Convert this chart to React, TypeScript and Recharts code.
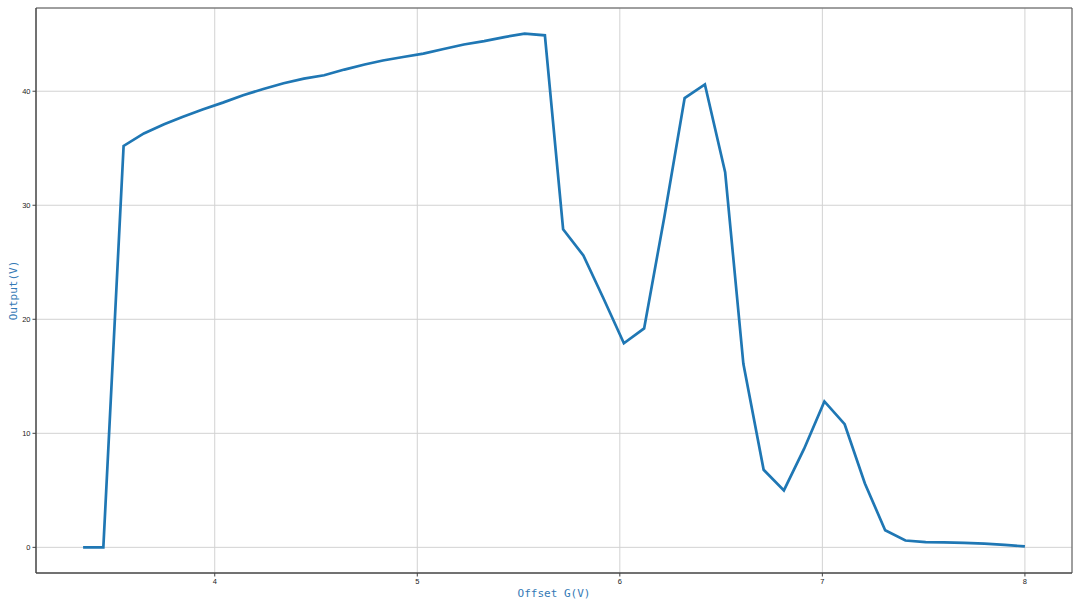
import React from "react";
import {
  LineChart,
  Line,
  XAxis,
  YAxis,
  CartesianGrid,
  ReferenceArea,
} from "recharts";

const offsetG = [
  3.35, 3.45, 3.55, 3.65, 3.75, 3.84, 3.94, 4.04, 4.14, 4.24, 4.34, 4.44,
  4.54, 4.64, 4.74, 4.83, 4.93, 5.03, 5.13, 5.23, 5.33, 5.43, 5.53, 5.63,
  5.72, 5.82, 5.92, 6.02, 6.12, 6.22, 6.32, 6.42, 6.52, 6.61, 6.71, 6.81,
  6.91, 7.01, 7.11, 7.21, 7.31, 7.41, 7.51, 7.6, 7.7, 7.8, 7.9, 8.0,
];

const output = [
  0, 0, 35.2, 36.3, 37.1, 37.75, 38.4, 39.0, 39.65, 40.2, 40.7, 41.1, 41.4,
  41.9, 42.35, 42.7, 43.0, 43.3, 43.7, 44.1, 44.4, 44.75, 45.05, 44.9, 27.9,
  25.6, 21.8, 17.9, 19.2, 29.0, 39.4, 40.6, 32.9, 16.1, 6.8, 5.0, 8.65, 12.8,
  10.8, 5.6, 1.5, 0.6, 0.45, 0.43, 0.4, 0.33, 0.22, 0.08,
];

const xTicks = [4, 5, 6, 7, 8];
const yTicks = [0, 10, 20, 30, 40];

const xLabel = "Offset G(V)";
const yLabel = "Output(V)";

const xDomain: [number, number] = [3.1175, 8.2325];
const yDomain: [number, number] = [-2.25, 47.3];

const data = offsetG.map((x, i) => ({ x, y: output[i] }));

const labelColor = "#3479b5";
const labelFont = "'DejaVu Sans Mono', 'Liberation Mono', monospace";

export default function App() {
  return (
    <div
      style={{
        position: "fixed",
        left: 0,
        top: 0,
        width: 1080,
        height: 607,
        background: "#ffffff",
      }}
    >
      <LineChart
        width={1080}
        height={607}
        data={data}
        margin={{ top: 8, right: 8, bottom: 0, left: 0 }}
      >
        <CartesianGrid stroke="#d2d2d2" strokeWidth={1} />
        <XAxis
          dataKey="x"
          type="number"
          domain={xDomain}
          ticks={xTicks}
          allowDataOverflow
          height={34}
          tickSize={3.5}
          tickMargin={2}
          stroke="#444"
          tick={{ fontSize: 7.5, fill: "#222", fontFamily: "'Liberation Sans', sans-serif" }}
          label={{
            value: xLabel,
            position: "insideBottom",
            offset: 10,
            fill: labelColor,
            fontSize: 11,
            fontFamily: labelFont,
          }}
        />
        <YAxis
          type="number"
          domain={yDomain}
          ticks={yTicks}
          allowDataOverflow
          width={36}
          tickSize={3.5}
          tickMargin={2}
          stroke="#444"
          tick={{ fontSize: 7.5, fill: "#222", fontFamily: "'Liberation Sans', sans-serif" }}
          label={(props: any) => {
            const vb = props.viewBox || { x: 0, y: 8, width: 36, height: 565 };
            const cx = 13;
            const cy = vb.y + vb.height / 2;
            return (
              <text
                x={cx}
                y={cy}
                transform={`rotate(-90, ${cx}, ${cy})`}
                textAnchor="middle"
                dominantBaseline="central"
                fill={labelColor}
                fontSize={11}
                fontFamily={labelFont}
              >
                {yLabel}
              </text>
            );
          }}
        />
        <ReferenceArea
          x1={xDomain[0]}
          x2={xDomain[1]}
          y1={yDomain[0]}
          y2={yDomain[1]}
          fill="none"
          stroke="#555"
          strokeWidth={1}
          ifOverflow="visible"
        />
        <Line
          type="linear"
          dataKey="y"
          stroke="#1f77b4"
          strokeWidth={2.7}
          dot={false}
          activeDot={false}
          isAnimationActive={false}
        />
      </LineChart>
    </div>
  );
}
